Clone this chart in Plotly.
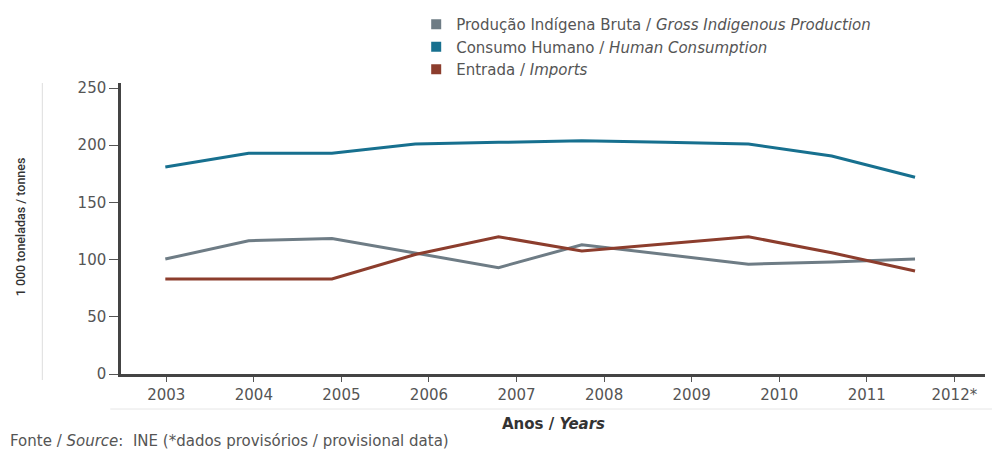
import plotly.graph_objects as go

years = ["2003", "2004", "2005", "2006", "2007", "2008", "2009", "2010", "2011", "2012*"]
gross = [100.5, 116.5, 118.5, 106, 93, 113, 104.5, 96, 98, 100.5]
consumo = [181, 193, 193, 201, 202.5, 204, 202.5, 201, 190.5, 172]
imports = [83, 83, 83, 104.5, 120, 107.5, 113.5, 120, 106, 90]

names = [
    "Produção Indígena Bruta / <i>Gross Indigenous Production</i>",
    "Consumo Humano / <i>Human Consumption</i>",
    "Entrada / <i>Imports</i>",
]
colors = ["#6e7c85", "#17708f", "#8c3d2d"]
series = [gross, consumo, imports]

FONT = "DejaVu Sans"
W, H = 992, 452
L, R, T, B = 120.7, 985, 83, 374

fig = go.Figure()
for vals, col in zip(series, colors):
    fig.add_trace(go.Scatter(x=years, y=vals, mode="lines", line=dict(color=col, width=3),
                             showlegend=False, xaxis="x", yaxis="y"))
for nm, col in zip(names, colors):
    fig.add_trace(go.Scatter(x=[None], y=[None], mode="markers", name=nm,
                             marker=dict(symbol="square", size=10, color=col)))
# carrier for the labelled year axis
fig.add_trace(go.Scatter(x=years, y=[None] * len(years), xaxis="x2", yaxis="y",
                         mode="markers", showlegend=False, hoverinfo="skip"))

def px2paperx(px):
    return (px - L) / (R - L)

def px2papery(py):
    return (B - py) / (B - T)

fig.update_layout(
    width=W, height=H,
    margin=dict(l=L, r=W - R, t=T, b=H - B, pad=0),
    paper_bgcolor="white", plot_bgcolor="white",
    font=dict(family=FONT, color="#555"),
    xaxis=dict(type="category", categoryorder="array", categoryarray=years,
               range=[-0.532, 9.84], visible=False, showgrid=False, zeroline=False),
    xaxis2=dict(type="category", categoryorder="array", categoryarray=years,
                range=[-0.517, 9.35], overlaying="x", anchor="y", side="bottom",
                showline=True, linecolor="#444", linewidth=2.5,
                ticks="outside", ticklen=5, tickwidth=1.2, tickcolor="#555",
                tickfont=dict(size=15, color="#555", family=FONT),
                showgrid=False, zeroline=False),
    yaxis=dict(range=[0, 254.4], tickvals=[0, 50, 100, 150, 200, 250],
               showline=True, linecolor="#444", linewidth=2.5,
               ticks="outside", ticklen=9, tickwidth=1.2, tickcolor="#555",
               tickfont=dict(size=15, color="#555", family=FONT),
               showgrid=False, zeroline=False),
    legend=dict(x=px2paperx(416), y=px2papery(8), xanchor="left", yanchor="top",
                font=dict(size=15, color="#555", family=FONT),
                bgcolor="rgba(0,0,0,0)", borderwidth=0, tracegroupgap=0),
    shapes=[
        dict(type="line", xref="paper", yref="paper", x0=px2paperx(42), x1=px2paperx(42),
             y0=px2papery(83), y1=px2papery(380), line=dict(color="#ddd", width=1)),
        dict(type="line", xref="paper", yref="paper", x0=px2paperx(110), x1=px2paperx(992),
             y0=px2papery(409), y1=px2papery(409), line=dict(color="#e6e6e6", width=1)),
    ],
    annotations=[
        dict(text="1 000 toneladas / tonnes", xref="paper", yref="paper",
             x=px2paperx(20), y=px2papery(227), textangle=-90, showarrow=False,
             xanchor="center", yanchor="middle",
             font=dict(size=12.5, color="#333", family="Roboto", weight=500)),
        dict(text="<b>Anos / <i>Years</i></b>", xref="paper", yref="paper",
             x=px2paperx(553), y=px2papery(424), showarrow=False,
             xanchor="center", yanchor="middle",
             font=dict(size=15, color="#333", family=FONT)),
        dict(text="Fonte / <i>Source</i>:  INE (*dados provisórios / provisional data)",
             xref="paper", yref="paper", x=px2paperx(8), y=px2papery(441),
             showarrow=False, xanchor="left", yanchor="middle",
             font=dict(size=15, color="#555", family=FONT)),
    ],
)

fig.write_html("out.html")
